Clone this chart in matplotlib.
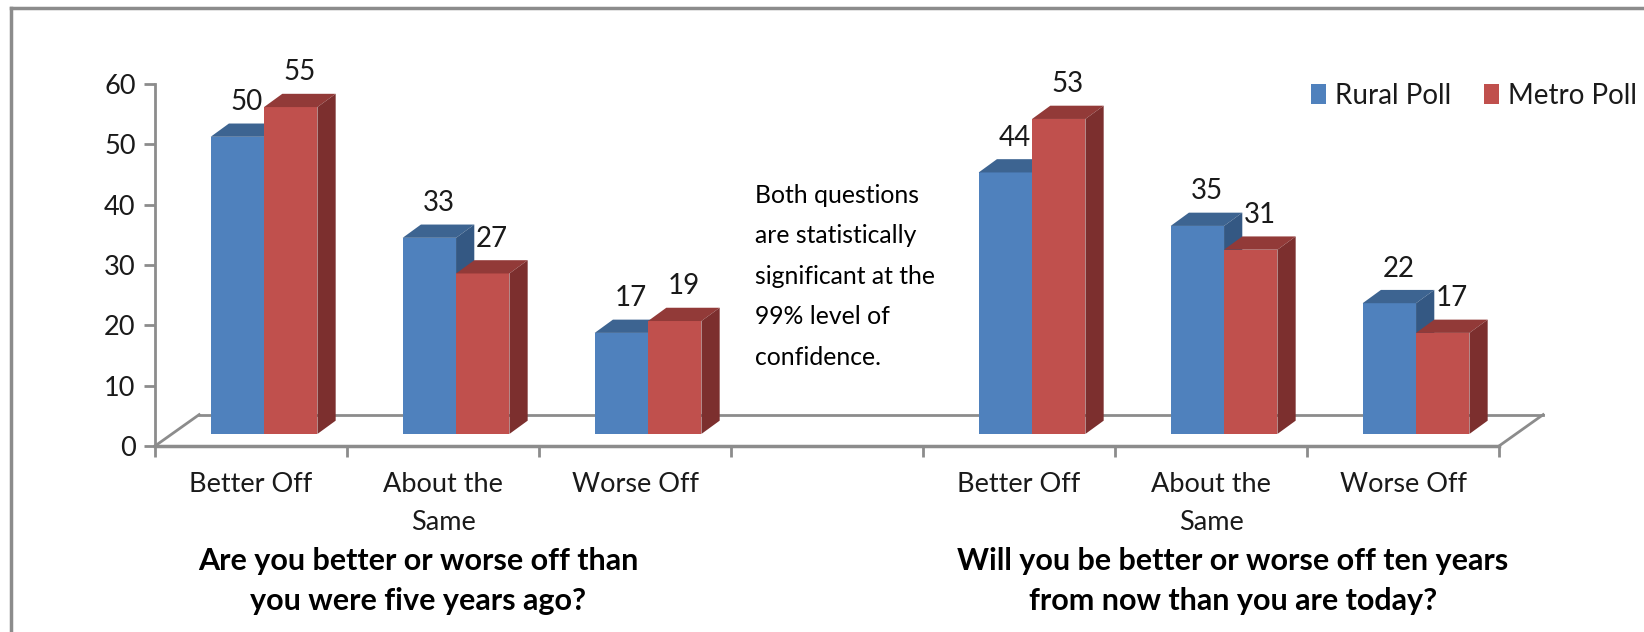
import matplotlib
matplotlib.use("Agg")
import matplotlib.pyplot as plt
from matplotlib.patches import Polygon, Patch
from matplotlib.lines import Line2D

plt.rcParams['font.family'] = ['Lato', 'DejaVu Sans']

# data
categories = ["Better Off", "About the\nSame", "Worse Off"]
slots_q1 = [0, 1, 2]
slots_q2 = [4, 5, 6]
rural_q1 = [50, 33, 17]
metro_q1 = [55, 27, 19]
rural_q2 = [44, 35, 22]
metro_q2 = [53, 31, 17]
series_names = ["Rural Poll", "Metro Poll"]
titles = ["Are you better or worse off than\nyou were five years ago?",
          "Will you be better or worse off ten years\nfrom now than you are today?"]
note = "Both questions\nare statistically\nsignificant at the\n99% level of\nconfidence."
yticks = [0, 10, 20, 30, 40, 50, 60]

# colours: front, top, side
BLUE = ("#4F81BD", "#3D6491", "#345883")
RED = ("#C0504D", "#923A38", "#7C2F2E")
GRID = "#8C8C8C"
TXT = "#1a1a1a"

# 3d look (data units)
OFF = 0.29       # bar start inside slot
W = 0.278        # bar width
BASE = 2.0       # bar base above front edge
SC = 0.985       # value scale
DX, DY = 0.095, 2.2      # bar depth
FDX, FDY = 0.23, 5.2     # floor depth

W_PX, H_PX = 1644, 632
fig = plt.figure(figsize=(W_PX / 100, H_PX / 100), dpi=100)
ax = fig.add_axes([155 / W_PX, (H_PX - 446) / H_PX, (1499 - 155) / W_PX, 362 / H_PX])
ax.set_xlim(0, 7)
ax.set_ylim(0, 60)


def draw_bar(x, v, cols, z):
    top = BASE + v * SC
    ax.bar(x, top - BASE, width=W, bottom=BASE, align="edge", color=cols[0],
           zorder=z, clip_on=False, linewidth=0)
    ax.add_patch(Polygon([(x, top), (x + W, top), (x + W + DX, top + DY), (x + DX, top + DY)],
                         closed=True, fc=cols[1], ec="none", zorder=z, clip_on=False))
    ax.add_patch(Polygon([(x + W, BASE), (x + W + DX, BASE + DY), (x + W + DX, top + DY), (x + W, top)],
                         closed=True, fc=cols[2], ec="none", zorder=z, clip_on=False))
    ax.annotate(str(v), (x + W / 2 + DX / 2, top + DY), xytext=(0, 6), textcoords="offset points",
                ha="center", va="bottom", fontsize=20, color=TXT, zorder=10, annotation_clip=False)


for slots, rural, metro in [(slots_q1, rural_q1, metro_q1), (slots_q2, rural_q2, metro_q2)]:
    for s, r, m in zip(slots, rural, metro):
        draw_bar(s + OFF, r, BLUE, 3)
        draw_bar(s + OFF + W, m, RED, 4)

# floor
ax.plot([FDX, 7 + FDX], [FDY, FDY], color=GRID, lw=2, zorder=1, clip_on=False)
ax.plot([0, FDX], [0, FDY], color=GRID, lw=2, zorder=1, clip_on=False)
ax.plot([7, 7 + FDX], [0, FDY], color=GRID, lw=2, zorder=1, clip_on=False)

# axes styling
for sp in ["top", "right"]:
    ax.spines[sp].set_visible(False)
ax.spines["left"].set_color(GRID)
ax.spines["left"].set_linewidth(2)
ax.spines["bottom"].set_color(GRID)
ax.spines["bottom"].set_linewidth(2.5)
ax.set_yticks(yticks)
ax.tick_params(axis="y", length=8, width=2, color=GRID, labelsize=19.5, labelcolor=TXT, pad=6)
ax.set_xticks([s + 0.5 for s in slots_q1 + slots_q2])
ax.set_xticklabels(categories * 2, fontsize=19.5, color=TXT, linespacing=1.63, va="top")
ax.set_xticks(range(8), minor=True)
ax.tick_params(axis="x", which="major", length=0, pad=19)
ax.tick_params(axis="x", which="minor", length=8, width=2, color=GRID)
ax.set_facecolor("none")

# titles
fig.text(418 / W_PX, 1 - 547 / H_PX, titles[0], ha="center", va="top", fontsize=22,
         fontweight="bold", color="black", linespacing=1.52)
fig.text(1233 / W_PX, 1 - 547 / H_PX, titles[1], ha="center", va="top", fontsize=22,
         fontweight="bold", color="black", linespacing=1.52)

# note
fig.text(755 / W_PX, 1 - 184 / H_PX, note, ha="left", va="top", fontsize=17.8,
         color="black", linespacing=1.92)

# legend
handles = [Patch(facecolor=BLUE[0]), Patch(facecolor=RED[0])]
fig.legend(handles, series_names, loc="center left", bbox_to_anchor=(1286 / W_PX, 1 - 96 / H_PX),
           ncol=2, frameon=False, fontsize=20, handlelength=0.55, handleheight=0.75,
           handletextpad=0.3, columnspacing=1.2, labelcolor=TXT)

# outer frame (top and left edges visible)
fig.add_artist(Line2D([11 / W_PX, 1], [1 - 8 / H_PX, 1 - 8 / H_PX], color=GRID, lw=2.5))
fig.add_artist(Line2D([11 / W_PX, 11 / W_PX], [0, 1 - 8 / H_PX], color=GRID, lw=2.5))

fig.savefig("out.png", dpi=100)
